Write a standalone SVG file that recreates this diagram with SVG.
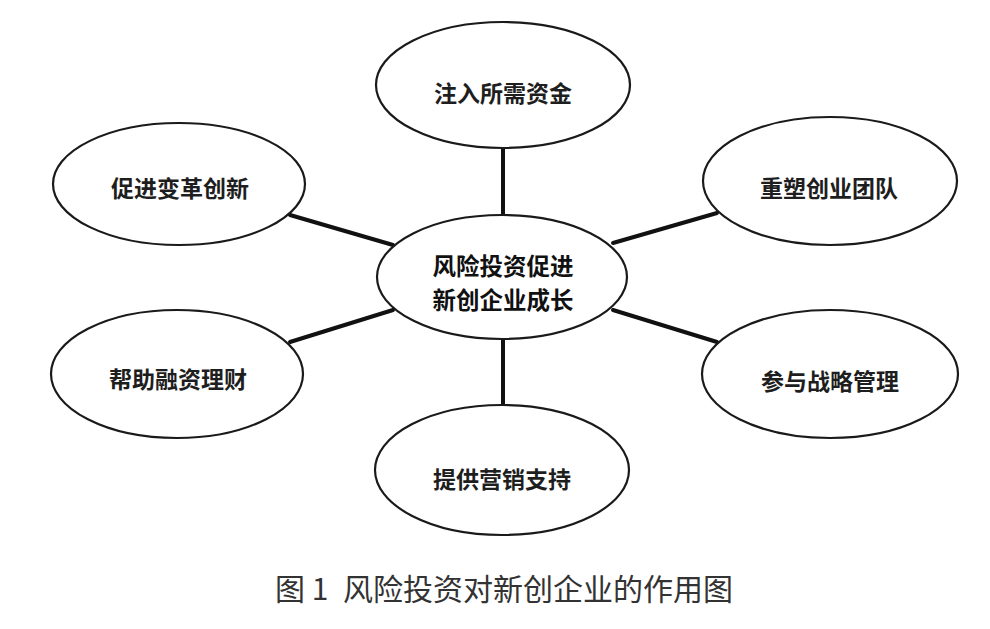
<svg xmlns="http://www.w3.org/2000/svg" width="990" height="629" viewBox="0 0 990 629">
<style>
.bg{fill:#ffffff}
.node ellipse{fill:#ffffff;stroke:#1a1a1a;stroke-width:2.2}
.node text{font-family:"Noto Sans CJK SC","Noto Sans",sans-serif;font-weight:bold;font-size:23px;fill:#1e1e1e;text-anchor:middle;dominant-baseline:central}
#center text{font-size:23.5px;fill:#111}
.edges line{stroke:#111;stroke-width:4;stroke-linecap:round}
.caption{font-family:"Noto Sans CJK SC","Noto Sans",sans-serif;font-size:30px;fill:#333;text-anchor:middle;dominant-baseline:central;white-space:pre}
</style>
<rect class="bg" x="0" y="0" width="990" height="629"/>
<g id="connectors" class="edges">
<line x1="503" y1="148" x2="503" y2="215"/>
<line x1="503" y1="339" x2="503" y2="406"/>
<line x1="290" y1="215" x2="393" y2="245"/>
<line x1="717" y1="213" x2="613" y2="243"/>
<line x1="290" y1="342" x2="393" y2="310"/>
<line x1="717" y1="342" x2="613" y2="310"/>
</g>
<g id="center" class="node">
<ellipse cx="502" cy="277" rx="125" ry="62"/>
<text x="503" y="265">风险投资促进</text>
<text x="503" y="299">新创企业成长</text>
</g>
<g id="top" class="node">
<ellipse cx="503" cy="85" rx="127" ry="63"/>
<text x="503" y="92">注入所需资金</text>
</g>
<g id="top-left" class="node">
<ellipse cx="179" cy="184" rx="126" ry="61"/>
<text x="180" y="187">促进变革创新</text>
</g>
<g id="top-right" class="node">
<ellipse cx="830" cy="181" rx="127" ry="64"/>
<text x="829" y="187">重塑创业团队</text>
</g>
<g id="bottom-left" class="node">
<ellipse cx="177" cy="374" rx="126" ry="64"/>
<text x="178" y="378">帮助融资理财</text>
</g>
<g id="bottom-right" class="node">
<ellipse cx="830" cy="374" rx="128" ry="64"/>
<text x="830" y="380">参与战略管理</text>
</g>
<g id="bottom" class="node">
<ellipse cx="502" cy="470" rx="127" ry="65"/>
<text x="502" y="478">提供营销支持</text>
</g>
<text class="caption" x="504" y="587">图 1 <tspan dx="8">风险投资对新创企业的作用图</tspan></text>
</svg>
